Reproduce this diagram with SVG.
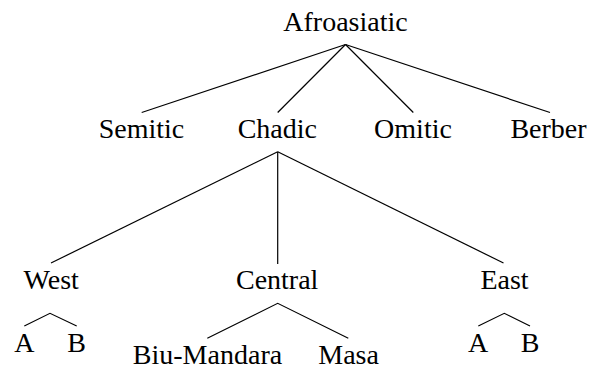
<svg xmlns="http://www.w3.org/2000/svg" width="590" height="370" viewBox="0 0 590 370">
<style>
.edge { stroke: #000; stroke-width: 1.2; fill: none; }
</style>
<rect width="590" height="370" fill="#fff"/>
<g id="connectors">
<line class="edge" x1="345.5" y1="44.5" x2="141.7" y2="112.5"/>
<line class="edge" x1="345.5" y1="44.5" x2="277.7" y2="112.5"/>
<line class="edge" x1="345.5" y1="44.5" x2="413.3" y2="112.5"/>
<line class="edge" x1="345.5" y1="44.5" x2="550" y2="112.5"/>
<line class="edge" x1="277.7" y1="151.7" x2="51" y2="263"/>
<line class="edge" x1="277.7" y1="151.7" x2="277.7" y2="264"/>
<line class="edge" x1="277.7" y1="151.7" x2="503.5" y2="263"/>
<polyline class="edge" points="24.3,326 50,313.3 76.7,326"/>
<polyline class="edge" points="207.3,338.3 277.7,303.3 348.3,338.3"/>
<polyline class="edge" points="478.3,326 504.3,313.3 530,326"/>
</g>
<g id="afroasiatic"><text x="345.5" y="31" font-family="Liberation Serif, Times New Roman, serif" font-size="28" text-anchor="middle">Afroasiatic</text></g>
<g id="semitic"><text x="141.5" y="138.3" font-family="Liberation Serif, Times New Roman, serif" font-size="28" text-anchor="middle">Semitic</text></g>
<g id="chadic"><text x="277.3" y="138.3" font-family="Liberation Serif, Times New Roman, serif" font-size="28" text-anchor="middle">Chadic</text></g>
<g id="omitic"><text x="413" y="138.3" font-family="Liberation Serif, Times New Roman, serif" font-size="28" text-anchor="middle">Omitic</text></g>
<g id="berber"><text x="548.5" y="138.3" font-family="Liberation Serif, Times New Roman, serif" font-size="28" text-anchor="middle">Berber</text></g>
<g id="west"><text x="51.2" y="289.3" font-family="Liberation Serif, Times New Roman, serif" font-size="28" text-anchor="middle">West</text></g>
<g id="central"><text x="277.2" y="289.3" font-family="Liberation Serif, Times New Roman, serif" font-size="28" text-anchor="middle">Central</text></g>
<g id="east"><text x="504.5" y="289.3" font-family="Liberation Serif, Times New Roman, serif" font-size="28" text-anchor="middle">East</text></g>
<g id="west-a"><text x="24.3" y="351.7" font-family="Liberation Serif, Times New Roman, serif" font-size="28" text-anchor="middle">A</text></g>
<g id="west-b"><text x="76.7" y="351.7" font-family="Liberation Serif, Times New Roman, serif" font-size="28" text-anchor="middle">B</text></g>
<g id="biu-mandara"><text x="207.5" y="364" font-family="Liberation Serif, Times New Roman, serif" font-size="28" text-anchor="middle">Biu-Mandara</text></g>
<g id="masa"><text x="348.6" y="364" font-family="Liberation Serif, Times New Roman, serif" font-size="28" text-anchor="middle">Masa</text></g>
<g id="east-a"><text x="478" y="351.7" font-family="Liberation Serif, Times New Roman, serif" font-size="28" text-anchor="middle">A</text></g>
<g id="east-b"><text x="530" y="351.7" font-family="Liberation Serif, Times New Roman, serif" font-size="28" text-anchor="middle">B</text></g>
</svg>
